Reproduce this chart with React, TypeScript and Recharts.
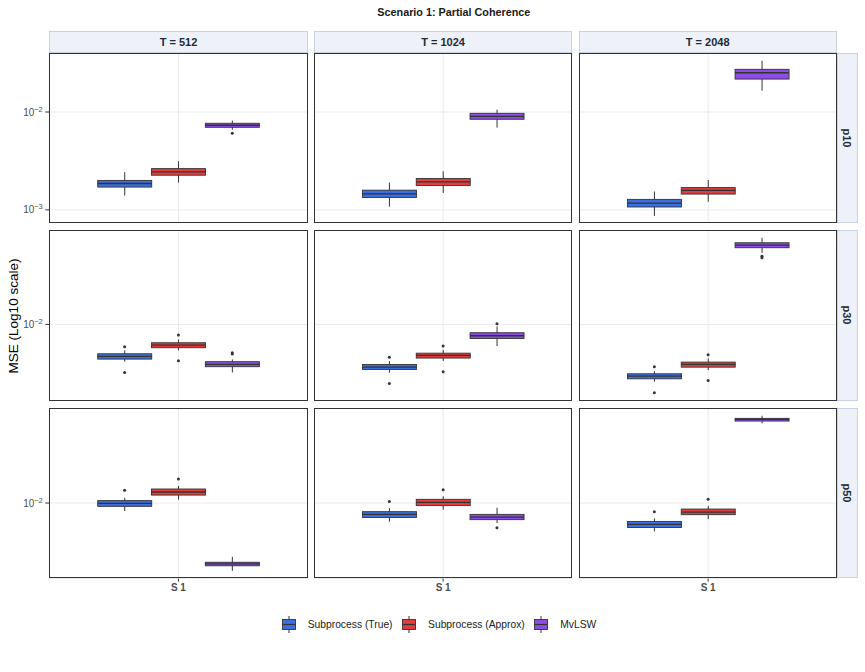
import React from "react";
import { ComposedChart, Bar, Scatter, XAxis, YAxis, CartesianGrid } from "recharts";

// ---- labels ----
const chartTitle = "Scenario 1: Partial Coherence";
const yTitle = "MSE (Log10 scale)";
const tLabels = ["T = 512", "T = 1024", "T = 2048"];
const pLabels = ["p10", "p30", "p50"];
const methods = ["Subprocess (True)", "Subprocess (Approx)", "MvLSW"];
const methodColors = ["#3B6FE1", "#E13D3D", "#8B4DE5"];
const xTickLabel = "S 1";

// ---- box statistics: [lower whisker, Q1, median, Q3, upper whisker], one row per T ----
const p10True = [
  [1.4e-3, 1.71e-3, 1.86e-3, 2.0e-3, 2.43e-3],
  [1.08e-3, 1.34e-3, 1.46e-3, 1.59e-3, 1.9e-3],
  [8.69e-4, 1.07e-3, 1.17e-3, 1.28e-3, 1.54e-3],
];
const p10Approx = [
  [1.9e-3, 2.26e-3, 2.44e-3, 2.64e-3, 3.14e-3],
  [1.49e-3, 1.77e-3, 1.93e-3, 2.09e-3, 2.47e-3],
  [1.21e-3, 1.45e-3, 1.58e-3, 1.69e-3, 2.02e-3],
];
const p10Mv = [
  [6.61e-3, 6.98e-3, 7.32e-3, 7.67e-3, 8.17e-3],
  [6.93e-3, 8.43e-3, 9.04e-3, 9.7e-3, 1.057e-2],
  [1.65e-2, 2.17e-2, 2.52e-2, 2.73e-2, 3.34e-2],
];
const p30True = [
  [4.24e-3, 4.5e-3, 4.79e-3, 5.09e-3, 5.5e-3],
  [3.29e-3, 3.55e-3, 3.74e-3, 3.98e-3, 4.3e-3],
  [2.67e-3, 2.86e-3, 3.04e-3, 3.21e-3, 3.41e-3],
];
const p30Approx = [
  [5.5e-3, 5.85e-3, 6.21e-3, 6.56e-3, 7.08e-3],
  [4.3e-3, 4.61e-3, 4.9e-3, 5.16e-3, 5.58e-3],
  [3.49e-3, 3.74e-3, 3.98e-3, 4.2e-3, 4.57e-3],
];
const p30Mv = [
  [3.31e-3, 3.78e-3, 3.98e-3, 4.24e-3, 4.47e-3],
  [6.07e-3, 7.24e-3, 7.71e-3, 8.26e-3, 9.55e-3],
  [5.21e-2, 5.85e-2, 6.21e-2, 6.56e-2, 7.36e-2],
];
const p50True = [
  [8.32e-3, 9.27e-3, 9.93e-3, 1.057e-2, 1.13e-2],
  [6.52e-3, 7.19e-3, 7.71e-3, 8.2e-3, 8.91e-3],
  [5.21e-3, 5.71e-3, 6.12e-3, 6.56e-3, 7.03e-3],
];
const p50Approx = [
  [1.08e-2, 1.2e-2, 1.288e-2, 1.38e-2, 1.48e-2],
  [8.59e-3, 9.42e-3, 1.016e-2, 1.089e-2, 1.167e-2],
  [6.92e-3, 7.66e-3, 8.13e-3, 8.71e-3, 9.33e-3],
];
const p50Mv = [
  [2.11e-3, 2.37e-3, 2.48e-3, 2.57e-3, 2.91e-3],
  [6.31e-3, 6.83e-3, 7.24e-3, 7.71e-3, 8.99e-3],
  [6.22e-2, 6.56e-2, 6.82e-2, 6.98e-2, 7.41e-2],
];

// ---- outlying runs, one list per T ----
const p10TrueOut: number[][] = [[], [], []];
const p10ApproxOut: number[][] = [[], [], []];
const p10MvOut: number[][] = [[6.06e-3], [], []];
const p30TrueOut: number[][] = [[5.98e-3, 3.31e-3], [4.71e-3, 2.57e-3], [3.78e-3, 2.07e-3]];
const p30ApproxOut: number[][] = [[7.82e-3, 4.34e-3], [6.07e-3, 3.36e-3], [4.98e-3, 2.75e-3]];
const p30MvOut: number[][] = [[5.21e-3, 5.05e-3], [1.016e-2], [4.65e-2, 4.82e-2]];
const p50TrueOut: number[][] = [[1.34e-2], [1.033e-2], [8.2e-3]];
const p50ApproxOut: number[][] = [[1.74e-2], [1.36e-2], [1.089e-2]];
const p50MvOut: number[][] = [[], [5.68e-3], []];

// y-axis breaks per facet row
const rowTicks = [[1e-3, 1e-2], [1e-2], [1e-2]];

const rowStats = [
  [p10True, p10Approx, p10Mv],
  [p30True, p30Approx, p30Mv],
  [p50True, p50Approx, p50Mv],
];
const rowOutliers = [
  [p10TrueOut, p10ApproxOut, p10MvOut],
  [p30TrueOut, p30ApproxOut, p30MvOut],
  [p50TrueOut, p50ApproxOut, p50MvOut],
];

// free y scale per row: data range on log10 axis, widened by 5% on each side
function rowDomain(r: number): [number, number] {
  const vals: number[] = [];
  rowStats[r].forEach((m) => m.forEach((s) => vals.push(s[0], s[4])));
  rowOutliers[r].forEach((m) => m.forEach((o) => vals.push(...o)));
  const logs = vals.map((v) => Math.log10(v));
  const lo = Math.min(...logs);
  const hi = Math.max(...logs);
  const pad = (hi - lo) * 0.05;
  return [Math.pow(10, lo - pad), Math.pow(10, hi + pad)];
}

// ---- layout ----
const FONT = "'Liberation Sans', Arial, Helvetica, sans-serif";
const INK = "#333333";
const PANEL_W = 258.3;
const PANEL_H = 170.6;
const COL_LEFT0 = 49.3;
const COL_STEP = 264.6;
const ROW_TOP0 = 52.7;
const ROW_STEP = 177.5;
const X_AXIS_H = 24;
const STRIP = 21.6;

const WhiskerShape = (p: any) => {
  const cx = p.x + p.width / 2;
  return <line x1={cx} x2={cx} y1={p.y} y2={p.y + p.height} stroke={INK} strokeWidth={1} />;
};

const BoxShape = (p: any) => {
  const y = Math.min(p.y, p.y + p.height);
  const h = Math.abs(p.height);
  return (
    <rect x={p.x} y={y} width={p.width} height={h} fill={p.payload.color} stroke={INK} strokeWidth={0.9} />
  );
};

// the bar spans Q1 -> median, so its value end (y) is the median
const MedianShape = (p: any) => (
  <line x1={p.x} x2={p.x + p.width} y1={p.y} y2={p.y} stroke={INK} strokeWidth={1.3} />
);

const OutlierDot = (p: any) => {
  if (!Number.isFinite(p.cx) || !Number.isFinite(p.cy)) return null;
  return <circle cx={p.cx} cy={p.cy} r={1.5} fill={INK} />;
};

const PowerTick = (props: any) => {
  const { x, y, payload } = props;
  const e = Math.round(Math.log10(payload.value));
  const exp = e < 0 ? `\u2212${Math.abs(e)}` : String(e);
  return (
    <text x={x} y={y} dy={3.5} textAnchor="end" fill="#4D4D4D" fontSize={10} fontFamily={FONT}>
      10
      <tspan dy={-4} fontSize={7.5}>
        {exp}
      </tspan>
    </text>
  );
};

function Panel({ r, c }: { r: number; c: number }) {
  const data = methods.map((m, i) => {
    const [lo, q1, med, q3, hi] = rowStats[r][i][c];
    const o = rowOutliers[r][i][c];
    return {
      method: m,
      color: methodColors[i],
      whisker: [lo, hi],
      box: [q1, q3],
      median: [q1, med],
      o1: o[0],
      o2: o[1],
    };
  });
  const showY = c === 0;
  const showX = r === 2;
  const yW = showY ? COL_LEFT0 : 0;
  const left = COL_LEFT0 + c * COL_STEP;
  const top = ROW_TOP0 + r * ROW_STEP;
  const pad = PANEL_W * 0.1875;
  const xCommon = {
    dataKey: "method",
    type: "category" as const,
    allowDuplicatedCategory: false,
    padding: { left: pad, right: pad },
  };
  return (
    <div style={{ position: "absolute", left: left - yW, top }}>
      <ComposedChart
        width={PANEL_W + yW}
        height={PANEL_H + (showX ? X_AXIS_H : 0)}
        data={data}
        margin={{ top: 0, right: 0, bottom: 0, left: 0 }}
        barCategoryGap={0}
        barGap={0}
      >
        <CartesianGrid stroke="#EBEBEB" strokeWidth={1} />
        <XAxis
          {...xCommon}
          xAxisId={0}
          ticks={[methods[1]]}
          tickFormatter={() => xTickLabel}
          hide={!showX}
          height={X_AXIS_H}
          axisLine={false}
          tickSize={3}
          tickMargin={2}
          tickLine={{ stroke: INK }}
          tick={{ fill: "#4D4D4D", fontSize: 10, fontWeight: "bold", fontFamily: FONT }}
          interval={0}
        />
        <XAxis {...xCommon} xAxisId={1} hide />
        <XAxis {...xCommon} xAxisId={2} hide />
        <YAxis
          scale="log"
          type="number"
          domain={rowDomain(r)}
          allowDataOverflow
          ticks={rowTicks[r]}
          interval={0}
          hide={!showY}
          width={yW}
          axisLine={false}
          tickSize={4}
          tickMargin={2.5}
          tickLine={{ stroke: INK }}
          tick={<PowerTick />}
        />
        <Bar xAxisId={2} dataKey="whisker" shape={WhiskerShape} isAnimationActive={false} />
        <Bar xAxisId={1} dataKey="box" shape={BoxShape} isAnimationActive={false} />
        <Bar xAxisId={0} dataKey="median" shape={MedianShape} isAnimationActive={false} />
        <Scatter xAxisId={1} dataKey="o1" shape={OutlierDot} isAnimationActive={false} />
        <Scatter xAxisId={1} dataKey="o2" shape={OutlierDot} isAnimationActive={false} />
      </ComposedChart>
      <div
        style={{
          position: "absolute",
          left: yW,
          top: 0,
          width: PANEL_W,
          height: PANEL_H,
          border: `1px solid ${INK}`,
          boxSizing: "border-box",
          pointerEvents: "none",
        }}
      />
    </div>
  );
}

const stripStyle: React.CSSProperties = {
  position: "absolute",
  background: "#EEF2F8",
  border: "1px solid #C8D3E2",
  boxSizing: "border-box",
  display: "flex",
  alignItems: "center",
  justifyContent: "center",
  fontWeight: "bold",
  fontSize: 11,
  color: "#1E2A38",
};

function LegendGlyph({ color }: { color: string }) {
  return (
    <svg width={14} height={19} style={{ display: "block" }}>
      <line x1={7} x2={7} y1={1} y2={18} stroke={INK} strokeWidth={1} />
      <rect x={0.5} y={4.5} width={13} height={10} fill={color} stroke={INK} strokeWidth={0.9} />
      <line x1={0.5} x2={13.5} y1={9.5} y2={9.5} stroke={INK} strokeWidth={1.2} />
    </svg>
  );
}

export default function App() {
  const rightEdge = COL_LEFT0 + 2 * COL_STEP + PANEL_W;
  return (
    <div
      style={{
        position: "absolute",
        left: 0,
        top: 0,
        width: 865,
        height: 672,
        background: "#FFFFFF",
        fontFamily: FONT,
        overflow: "hidden",
      }}
    >
      <div
        style={{
          position: "absolute",
          left: COL_LEFT0,
          width: rightEdge + STRIP - COL_LEFT0,
          top: 4,
          textAlign: "center",
          fontWeight: "bold",
          fontSize: 10.8,
          lineHeight: "16px",
          color: "#1A1A1A",
        }}
      >
        {chartTitle}
      </div>

      {tLabels.map((t, c) => (
        <div
          key={t}
          style={{
            ...stripStyle,
            left: COL_LEFT0 + c * COL_STEP,
            top: ROW_TOP0 - STRIP,
            width: PANEL_W,
            height: STRIP,
          }}
        >
          {t}
        </div>
      ))}

      {pLabels.map((p, r) => (
        <div
          key={p}
          style={{
            ...stripStyle,
            left: rightEdge,
            top: ROW_TOP0 + r * ROW_STEP,
            width: STRIP,
            height: PANEL_H,
          }}
        >
          <span style={{ transform: "rotate(90deg)", display: "inline-block", whiteSpace: "nowrap" }}>{p}</span>
        </div>
      ))}

      {[0, 1, 2].map((r) => [0, 1, 2].map((c) => <Panel key={`${r}-${c}`} r={r} c={c} />))}

      <div
        style={{
          position: "absolute",
          left: 13,
          top: ROW_TOP0 + (2 * ROW_STEP + PANEL_H) / 2,
          transform: "translate(-50%, -50%) rotate(-90deg)",
          fontSize: 13.5,
          whiteSpace: "nowrap",
          color: "#000",
        }}
      >
        {yTitle}
      </div>

      <div
        style={{
          position: "absolute",
          left: 0,
          width: 878,
          top: 615,
          height: 19,
          display: "flex",
          justifyContent: "center",
          alignItems: "center",
          fontSize: 10.3,
          color: "#1A1A1A",
        }}
      >
        {methods.map((m, i) => (
          <div key={m} style={{ display: "flex", alignItems: "center", marginRight: i < methods.length - 1 ? 9.5 : 0 }}>
            <LegendGlyph color={methodColors[i]} />
            <span style={{ marginLeft: 12 }}>{m}</span>
          </div>
        ))}
      </div>
    </div>
  );
}
